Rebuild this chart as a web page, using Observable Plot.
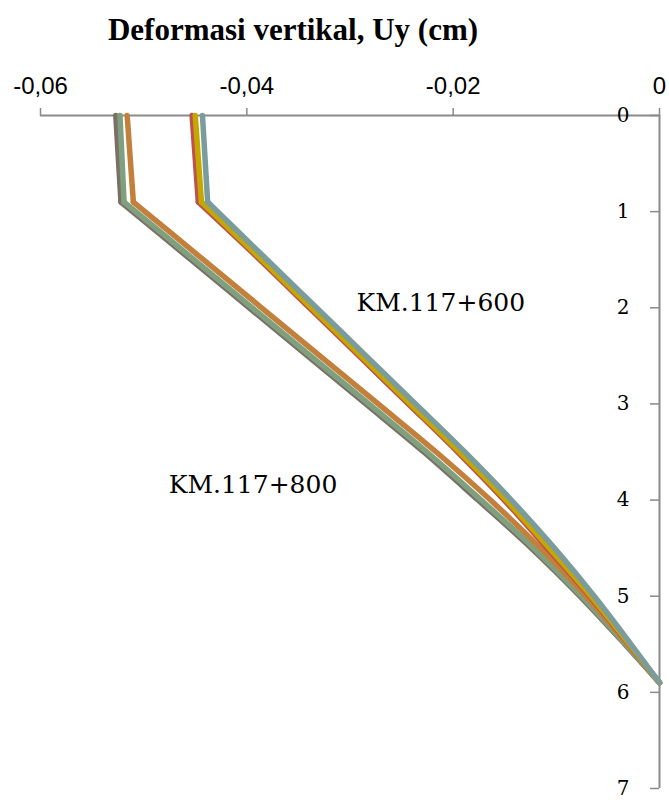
<!DOCTYPE html>
<html><head><meta charset="utf-8">
<script src="https://cdn.jsdelivr.net/npm/d3@7"></script>
<script src="https://cdn.jsdelivr.net/npm/@observablehq/plot@0.6"></script>
<style>
body{margin:0;background:#fff;}
#title{box-sizing:border-box;height:50px;width:586px;padding-top:14px;text-align:center;font:bold 31px "Liberation Serif",serif;line-height:1;color:#000;}
</style></head><body>
<div id="title">Deformasi vertikal, Uy (cm)</div>
<div id="chart"></div>
<script>
// depth (m) at which deformations are read
const depth = [0, 0.9, 1.5, 2, 2.5, 3, 3.5, 4, 4.5, 5, 5.5, 5.9];
// KM.117+800 series
const km800_a = [-0.0527, -0.0522, -0.04542, -0.03977, -0.03412, -0.02847, -0.02285, -0.01759, -0.01242, -0.00770, -0.00335, 0];
const km800_b = [-0.0523, -0.0519, -0.04512, -0.03947, -0.03382, -0.02817, -0.02255, -0.01729, -0.01220, -0.00756, -0.00329, 0];
const km800_c = [-0.0516, -0.0510, -0.04422, -0.03857, -0.03292, -0.02727, -0.02165, -0.01639, -0.01154, -0.00713, -0.00310, 0];
// KM.117+600 series
const km600_a = [-0.0453, -0.0447, -0.03874, -0.03394, -0.02914, -0.02434, -0.01957, -0.01506, -0.01088, -0.00677, -0.00296, 0];
const km600_b = [-0.0450, -0.0444, -0.03854, -0.03374, -0.02894, -0.02414, -0.01937, -0.01486, -0.01068, -0.00664, -0.00290, 0];
const km600_c = [-0.0443, -0.0438, -0.03804, -0.03324, -0.02844, -0.02364, -0.01887, -0.01436, -0.01018, -0.00632, -0.00276, 0];

const seriesNames = ["km800_a", "km800_b", "km800_c", "km600_a", "km600_b", "km600_c"];
const seriesValues = [km800_a, km800_b, km800_c, km600_a, km600_b, km600_c];
const seriesColors = ["#7b6f66", "#7fa07f", "#c2803c", "#c0504d", "#c4a800", "#7a9c9c"];

const xTicks = [-0.06, -0.04, -0.02, 0];
const yTicks = [0, 1, 2, 3, 4, 5, 6, 7];

const labelText = ["KM.117+600", "KM.117+800"];
const labelX = [-0.0212, -0.0394];
const labelY = [1.95, 3.84];

const rows = [];
seriesNames.forEach((s, i) => depth.forEach((d, j) => rows.push({series: s, idx: j, x: seriesValues[i][j], y: d})));
const labels = labelText.map((t, i) => ({text: t, x: labelX[i], y: labelY[i]}));

const fmt = d => d === 0 ? "0" : d.toFixed(2).replace(".", ",");
const axisColor = "#8a8a8a";

const marks = [
  Plot.ruleY([0], {stroke: axisColor, strokeWidth: 2}),
  Plot.ruleX([0], {stroke: axisColor, strokeWidth: 2}),
  Plot.axisX(xTicks, {anchor: "top", label: null, tickSize: 8, tickPadding: 14, tickFormat: fmt, stroke: axisColor, strokeWidth: 1.5,
    fontSize: 24, fontFamily: "Liberation Sans", fill: "#000"}),
  Plot.axisY(yTicks, {anchor: "left", frameAnchor: "right", label: null, tickSize: 9, tickPadding: 21, tickFormat: d => String(d),
    stroke: axisColor, strokeWidth: 1.5, fontSize: 20, fontFamily: "DejaVu Serif", fill: "#000"})
];
seriesNames.forEach((s, i) => {
  const pts = rows.filter(r => r.series === s);
  // straight top segment down to the kink, then a smooth curve to the toe
  marks.push(Plot.line(pts.filter(r => r.idx <= 1), {x: "x", y: "y", stroke: seriesColors[i], strokeWidth: 5.5, strokeLinecap: "round"}));
  marks.push(Plot.line(pts.filter(r => r.idx >= 1), {x: "x", y: "y", curve: "catmull-rom", stroke: seriesColors[i], strokeWidth: 5.5, strokeLinecap: "round"}));
});
marks.push(Plot.text(labels, {x: "x", y: "y", text: "text", fontSize: 25, fontFamily: "DejaVu Serif", fill: "#000"}));

const chart = Plot.plot({
  width: 669,
  height: 750,
  marginTop: 65,
  marginBottom: 12,
  marginLeft: 40,
  marginRight: 10,
  x: {domain: [-0.06, 0], axis: null},
  y: {domain: [0, 7], reverse: true, axis: null},
  style: {background: "#fff", color: "#000", overflow: "visible"},
  marks
});
document.getElementById("chart").appendChild(chart);
</script>
</body></html>
